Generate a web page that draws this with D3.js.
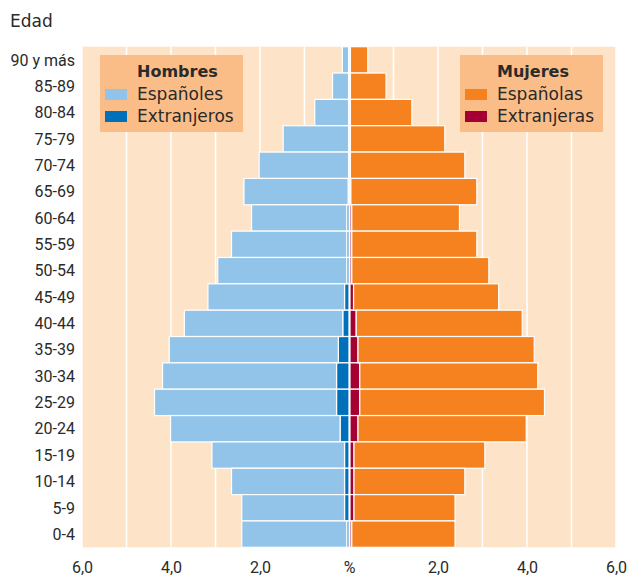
<!DOCTYPE html>
<html>
<head>
<meta charset="utf-8">
<script src="https://cdn.jsdelivr.net/npm/d3@7"></script>
<style>
  html, body { margin: 0; padding: 0; background: #ffffff; }
  svg { display: block; }
</style>
</head>
<body>
<svg id="chart" width="629" height="577"></svg>
<script>
const ages = ["90 y más","85-89","80-84","75-79","70-74","65-69","60-64","55-59","50-54","45-49","40-44","35-39","30-34","25-29","20-24","15-19","10-14","5-9","0-4"];
const hombresEsp = [0.14,0.36,0.76,1.47,2.01,2.34,2.14,2.59,2.90,3.07,3.56,3.80,3.91,4.09,3.81,2.98,2.54,2.31,2.36];
const hombresExt = [0.01,0.01,0.01,0.01,0.01,0.02,0.05,0.05,0.05,0.10,0.14,0.24,0.28,0.28,0.20,0.10,0.10,0.10,0.05];
const mujeresEsp = [0.39,0.80,1.38,2.12,2.57,2.83,2.42,2.81,3.08,3.26,3.73,3.96,4.00,4.15,3.78,2.94,2.49,2.27,2.32];
const mujeresExt = [0.01,0.01,0.01,0.01,0.01,0.02,0.04,0.04,0.04,0.08,0.14,0.18,0.22,0.22,0.18,0.09,0.09,0.09,0.04];
const tickValues = [-6,-4,-2,0,2,4,6];
const tickLabels = ["6,0","4,0","2,0","%","2,0","4,0","6,0"];
const gridValues = [-6,-5,-4,-3,-2,-1,1,2,3,4,5,6];

const colors = {
  bg: "#fde4c9",
  legend: "#fbbd87",
  hEsp: "#92c4ea",
  hExt: "#0070bb",
  mEsp: "#f5821f",
  mExt: "#a50034",
  text: "#2a2a2a"
};
const narrowFont = "Roboto, 'DejaVu Sans Condensed', sans-serif";

const svg = d3.select("#chart");
const plot = {left: 82, right: 616, top: 46.7, bottom: 547.3};

const x = d3.scaleLinear().domain([-6, 6]).range([plot.left, plot.right]);
const y = d3.scaleBand().domain(ages).range([plot.top, plot.bottom]).padding(0);

// background
svg.append("rect")
  .attr("x", plot.left).attr("y", plot.top)
  .attr("width", plot.right - plot.left).attr("height", plot.bottom - plot.top)
  .attr("fill", colors.bg);

// grid
svg.append("g").selectAll("line").data(gridValues).join("line")
  .attr("x1", d => x(d)).attr("x2", d => x(d))
  .attr("y1", plot.top).attr("y2", plot.bottom)
  .attr("stroke", "#ffffff").attr("stroke-width", 1.5);

// bars
const rows = ages.map((a, i) => ({
  age: a, hEsp: hombresEsp[i], hExt: hombresExt[i], mEsp: mujeresEsp[i], mExt: mujeresExt[i]
}));

const bars = svg.append("g").attr("stroke", "#ffffff").attr("stroke-width", 1.2);

bars.selectAll(".hExt").data(rows).join("rect")
  .attr("x", d => x(-d.hExt)).attr("y", d => y(d.age))
  .attr("width", d => x(0) - x(-d.hExt)).attr("height", y.bandwidth())
  .attr("fill", colors.hExt);
bars.selectAll(".hEsp").data(rows).join("rect")
  .attr("x", d => x(-(d.hExt + d.hEsp))).attr("y", d => y(d.age))
  .attr("width", d => x(-d.hExt) - x(-(d.hExt + d.hEsp))).attr("height", y.bandwidth())
  .attr("fill", colors.hEsp);
bars.selectAll(".mExt").data(rows).join("rect")
  .attr("x", d => x(0) + 1).attr("y", d => y(d.age))
  .attr("width", d => x(d.mExt) - x(0)).attr("height", y.bandwidth())
  .attr("fill", colors.mExt);
bars.selectAll(".mEsp").data(rows).join("rect")
  .attr("x", d => x(d.mExt) + 1).attr("y", d => y(d.age))
  .attr("width", d => x(d.mExt + d.mEsp) - x(d.mExt)).attr("height", y.bandwidth())
  .attr("fill", colors.mEsp);

// age labels
svg.append("g").selectAll("text").data(ages).join("text")
  .attr("x", 75).attr("y", d => y(d) + y.bandwidth() / 2)
  .attr("dy", "0.36em")
  .attr("text-anchor", "end")
  .attr("font-family", narrowFont)
  .attr("font-size", 16)
  .attr("fill", colors.text)
  .text(d => d);

// x axis labels
const axis = d3.axisBottom(x).tickValues(tickValues)
  .tickFormat((d, i) => tickLabels[i]).tickSize(0).tickPadding(0);
const ax = svg.append("g").attr("transform", `translate(0, 573)`).call(axis);
ax.select(".domain").remove();
ax.selectAll("text")
  .attr("y", 0).attr("dy", 0)
  .attr("font-family", narrowFont)
  .attr("font-size", 16)
  .attr("fill", colors.text);

// Edad title
svg.append("text")
  .attr("x", 10).attr("y", 27)
  .attr("font-family", "'DejaVu Sans', sans-serif")
  .attr("font-size", 17)
  .attr("fill", colors.text)
  .text("Edad");

// legends
const legends = [
  {x: 100, title: "Hombres", items: [["Españoles", colors.hEsp], ["Extranjeros", colors.hExt]]},
  {x: 460, title: "Mujeres", items: [["Españolas", colors.mEsp], ["Extranjeras", colors.mExt]]}
];
legends.forEach(L => {
  const g = svg.append("g").attr("transform", `translate(${L.x}, 55)`);
  g.append("rect").attr("width", 143).attr("height", 77).attr("fill", colors.legend);
  g.append("text").attr("x", 37).attr("y", 22)
    .attr("font-family", "'DejaVu Sans', sans-serif").attr("font-weight", "bold")
    .attr("font-size", 16).attr("fill", colors.text).text(L.title);
  L.items.forEach((it, i) => {
    g.append("rect").attr("x", 5).attr("y", 34 + i * 22).attr("width", 22).attr("height", 11)
      .attr("fill", it[1]);
    g.append("text").attr("x", 37).attr("y", 45 + i * 22)
      .attr("font-family", "'DejaVu Sans', sans-serif")
      .attr("font-size", 17).attr("fill", colors.text).text(it[0]);
  });
});
</script>
</body>
</html>
